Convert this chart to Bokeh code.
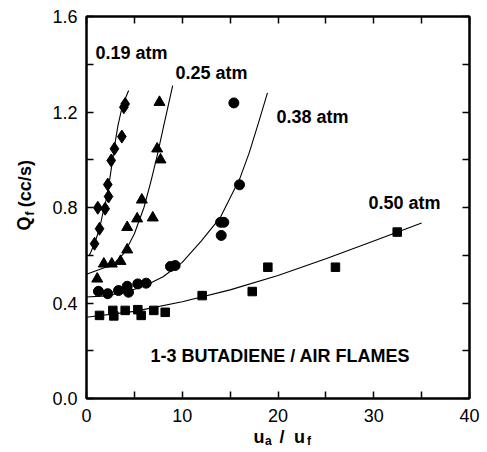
from math import pi
from bokeh.plotting import figure
from bokeh.models import LinearAxis, FixedTicker, Range1d, Label
from bokeh.embed import file_html
from bokeh.resources import INLINE

# ---- measured points ----
x_019 = [0.84, 1.36, 1.18, 1.95, 2.30, 2.22, 2.58, 2.92, 3.69, 3.90, 4.04]
y_019 = [0.648, 0.711, 0.799, 0.795, 0.846, 0.896, 0.997, 1.046, 1.097, 1.22, 1.234]

x_025 = [1.12, 1.81, 2.64, 3.55, 4.25, 4.25, 5.29, 6.92, 5.78, 7.73, 7.38, 7.62]
y_025 = [0.501, 0.564, 0.564, 0.575, 0.623, 0.717, 0.753, 0.757, 0.832, 1.0, 1.046, 1.241]

x_038 = [1.25, 2.22, 3.34, 4.25, 4.39, 5.36, 6.23, 8.77, 9.26, 14.0, 14.34, 14.07, 15.98, 15.39]
y_038 = [0.449, 0.439, 0.452, 0.47, 0.445, 0.48, 0.483, 0.553, 0.557, 0.738, 0.738, 0.683, 0.895, 1.238]

x_050 = [1.36, 2.75, 2.85, 4.04, 5.36, 5.71, 7.03, 8.22, 12.08, 17.31, 18.94, 26.0, 32.45]
y_050 = [0.348, 0.369, 0.346, 0.369, 0.372, 0.348, 0.369, 0.361, 0.431, 0.448, 0.55, 0.55, 0.697]

# ---- fitted curves ----
cx_019 = [0.3, 0.8, 1.36, 1.7, 2.16, 2.58, 2.9, 3.27, 3.6, 3.97, 4.4]
cy_019 = [0.60, 0.645, 0.711, 0.774, 0.85, 0.96, 1.05, 1.14, 1.2, 1.248, 1.29]

cx_025 = [0.0, 1.0, 2.0, 3.0, 4.0, 5.0, 6.0, 6.75, 7.4, 8.0, 8.5, 9.0]
cy_025 = [0.52, 0.535, 0.55, 0.57, 0.612, 0.69, 0.80, 0.913, 1.02, 1.13, 1.22, 1.31]

cx_038 = [0.0, 2.0, 4.0, 6.0, 8.0, 10.0, 12.0, 14.0, 16.0, 17.0, 18.0, 18.9]
cy_038 = [0.425, 0.43, 0.445, 0.47, 0.51, 0.57, 0.66, 0.76, 0.92, 1.03, 1.16, 1.28]

cx_050 = [0.0, 5.0, 10.0, 15.0, 20.0, 25.0, 30.0, 35.0]
cy_050 = [0.34, 0.365, 0.405, 0.455, 0.515, 0.585, 0.66, 0.735]

x_ticks = [0, 5, 10, 15, 20, 25, 30, 35, 40]
x_tick_labels = ["0", "", "10", "", "20", "", "30", "", "40"]
y_ticks = [0.0, 0.2, 0.4, 0.6, 0.8, 1.0, 1.2, 1.4, 1.6]
y_tick_labels = ["0.0", "", "0.4", "", "0.8", "", "1.2", "", "1.6"]

# axis titles split into pieces (main text and subscripts)
x_title_pos = [18.02, 20.42, 22.25]
x_title_txt = ["u", "/", "u"]
x_sub_pos = [19.0, 23.24]
x_sub_txt = ["a", "f"]
y_title_pos = [0.733, 0.9]
y_title_txt = ["Q", "(cc/s)"]
y_sub_pos = [0.775]
y_sub_txt = ["f"]

FONT = "Liberation Sans"

p = figure(width=487, height=452, output_backend="svg", toolbar_location=None,
           x_range=Range1d(0, 40), y_range=Range1d(0, 1.6),
           x_axis_location=None, y_axis_location=None,
           min_border_left=86, min_border_right=18, min_border_top=16, min_border_bottom=54)
p.background_fill_color = "white"
p.border_fill_color = "white"
p.grid.visible = False
p.outline_line_color = "black"
p.outline_line_width = 2


def make_axis(ticks, labels, size, standoff, bold=False, ticks_visible=True,
              orientation="horizontal"):
    ax = LinearAxis(ticker=FixedTicker(ticks=ticks),
                    major_label_overrides={t: l for t, l in zip(ticks, labels)})
    ax.major_tick_in = 7 if ticks_visible else 0
    ax.major_tick_out = 0
    ax.minor_tick_in = 0
    ax.minor_tick_out = 0
    ax.major_tick_line_width = 1.5
    ax.major_tick_line_color = "black" if ticks_visible else None
    ax.axis_line_width = 2
    ax.axis_line_color = "black" if ticks_visible else None
    ax.major_label_text_font = FONT
    ax.major_label_text_color = "black"
    ax.major_label_text_font_size = size
    ax.major_label_text_font_style = "bold" if bold else "normal"
    ax.major_label_standoff = standoff
    ax.major_label_orientation = orientation
    return ax


# bottom: ticks, subscripts, then title pulled back up over them
p.add_layout(make_axis(x_ticks, x_tick_labels, "18px", 10), "below")
p.add_layout(make_axis(x_sub_pos, x_sub_txt, "12px", 9, bold=True, ticks_visible=False), "below")
p.add_layout(make_axis(x_title_pos, x_title_txt, "18px", -24, bold=True, ticks_visible=False), "below")

# left: ticks, title, subscript
p.add_layout(make_axis(y_ticks, y_tick_labels, "18px", 9), "left")
p.add_layout(make_axis(y_title_pos, y_title_txt, "18px", 15, bold=True, ticks_visible=False,
                       orientation="parallel"), "left")
p.add_layout(make_axis(y_sub_pos, y_sub_txt, "12px", -25, bold=True, ticks_visible=False,
                       orientation="parallel"), "left")

# top / right: inward ticks only
p.add_layout(make_axis(x_ticks, [""] * len(x_ticks), "0px", 0), "above")
p.add_layout(make_axis(y_ticks, [""] * len(y_ticks), "0px", 0), "right")

# curves
for cx, cy in [(cx_019, cy_019), (cx_025, cy_025), (cx_038, cy_038), (cx_050, cy_050)]:
    p.line(cx, cy, line_color="black", line_width=1.1)

# markers
p.scatter(x_019, y_019, marker="diamond", size=13, color="black")
p.scatter(x_025, y_025, marker="triangle", size=11, color="black")
p.scatter(x_038, y_038, marker="circle", size=10, color="black")
p.scatter(x_050, y_050, marker="square", size=8.5, color="black")


def lab(x, y, text):
    p.add_layout(Label(x=x, y=y, text=text, text_font=FONT, text_font_size="18px",
                       text_font_style="bold", text_align="left", text_baseline="middle",
                       text_color="black"))


lab(0.94, 1.449, "0.19 atm")
lab(9.3, 1.363, "0.25 atm")
lab(19.84, 1.178, "0.38 atm")
lab(29.45, 0.818, "0.50 atm")
lab(6.68, 0.18, "1-3 BUTADIENE / AIR FLAMES")

open("out.html", "w").write(file_html(p, INLINE))
